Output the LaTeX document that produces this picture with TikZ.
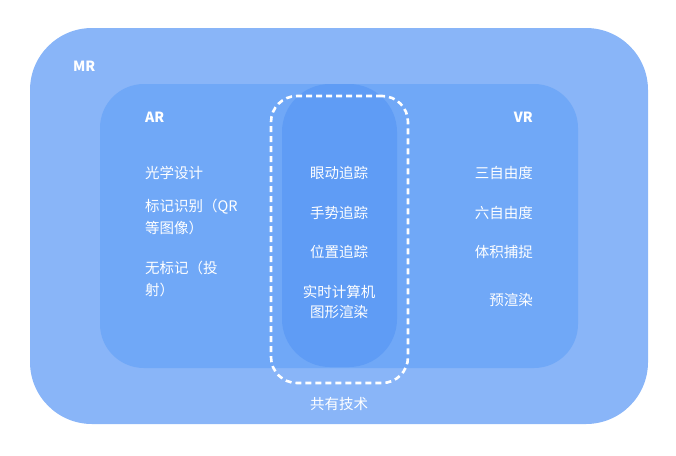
\documentclass[tikz,border=0pt]{standalone}
\usepackage{fontspec}
\setmainfont{Noto Sans CJK SC}
\definecolor{mrblue}{HTML}{89B5F8}
\definecolor{arblue}{HTML}{70A8F7}
\definecolor{coreblue}{HTML}{5F9CF5}
\tikzset{
  region/.style={rectangle, inner sep=0pt, outer sep=0pt, anchor=north west},
  lbl/.style={text=white, inner sep=0pt, font=\fontsize{14.5}{17}\selectfont},
  head/.style={text=white, inner sep=0pt, font=\fontsize{14}{17}\selectfont\bfseries},
}
\begin{document}
\begin{tikzpicture}[x=1pt,y=-1pt]
\useasboundingbox (0,0) rectangle (676,455);
\node[region, fill=mrblue, rounded corners=62, minimum width=618, minimum height=396] (mr) at (30,28) {};
\node[region, fill=arblue, rounded corners=44, minimum width=478, minimum height=284] (arvr) at (100,84) {};
\node[region, fill=coreblue, rounded corners=48, minimum width=115, minimum height=283] (core) at (282,84) {};
\node[region, draw=white, line width=2.6pt, dash pattern=on 6pt off 4pt, rounded corners=26, minimum width=137, minimum height=287] (shared) at (271,96) {};

\node[head, anchor=base west] (tmr) at (73,71) {MR};
\node[head, anchor=base west] (tar) at (145,122) {AR};
\node[head, anchor=base east] (tvr) at (533,122) {VR};

\node[lbl, anchor=base west] (a1) at (145,178) {光学设计};
\node[lbl, anchor=base west] (a2) at (145,211) {标记识别（QR};
\node[lbl, anchor=base west] (a2b) at (145,233) {等图像）};
\node[lbl, anchor=base west] (a3) at (145,273) {无标记（投};
\node[lbl, anchor=base west] (a3b) at (145,295) {射）};

\node[lbl, anchor=base] (c1) at (339,178) {眼动追踪};
\node[lbl, anchor=base] (c2) at (339,218) {手势追踪};
\node[lbl, anchor=base] (c3) at (339,257) {位置追踪};
\node[lbl, anchor=base] (c4) at (339,297) {实时计算机};
\node[lbl, anchor=base] (c4b) at (339,317) {图形渲染};
\node[lbl, anchor=base] (cs) at (339,409) {共有技术};

\node[lbl, anchor=base east] (v1) at (533,178) {三自由度};
\node[lbl, anchor=base east] (v2) at (533,218) {六自由度};
\node[lbl, anchor=base east] (v3) at (533,257) {体积捕捉};
\node[lbl, anchor=base east] (v4) at (533,305) {预渲染};
\end{tikzpicture}
\end{document}
